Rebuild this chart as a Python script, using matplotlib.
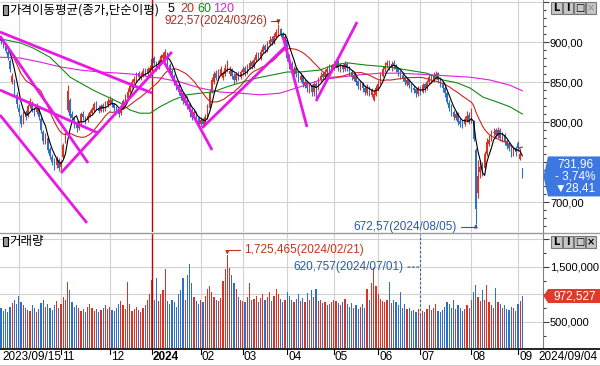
import matplotlib
matplotlib.use("Agg")
import matplotlib.pyplot as plt
import matplotlib.transforms as mtransforms
from matplotlib.patches import Rectangle, Polygon
from matplotlib.lines import Line2D
from matplotlib.ticker import MultipleLocator, FuncFormatter
import numpy as np
import pandas as pd

plt.rcParams['font.family'] = ['Noto Sans CJK KR', 'DejaVu Sans']
NUMFONT = ['Liberation Sans', 'DejaVu Sans']

# trading days, market holidays removed
holidays = ["2023-09-28", "2023-09-29", "2023-10-02", "2023-10-03", "2023-10-09",
            "2023-12-25", "2023-12-29", "2024-01-01", "2024-02-09", "2024-02-12",
            "2024-03-01", "2024-04-10", "2024-05-01", "2024-05-06", "2024-05-15",
            "2024-06-06", "2024-08-15"]
days = pd.bdate_range("2023-09-15", "2024-09-04")
days = days[~days.isin(pd.to_datetime(holidays))]

# daily candles, one line per month
open_ = [910, 906, 900, 895, 888, 876, 850, 852, 834,
         818, 808, 800, 812, 808, 820, 824, 816, 812, 818, 804, 788, 776, 780, 766, 756, 752, 746, 752,
         744, 756, 776, 815, 828, 810, 804, 798, 793, 800, 810, 806, 802, 808, 811, 815, 823, 818, 814, 821, 816, 821,
         824, 828, 822, 818, 814, 811, 818, 826, 830, 838, 844, 850, 853, 861, 855, 858, 865, 860, 864,
         868, 880, 874, 868, 875, 880, 878, 886, 871, 864, 857, 851, 846, 838, 836, 824, 830, 822, 814, 806, 812, 805,
         797, 803, 798, 806, 818, 838, 850, 861, 854, 860, 855, 860, 864, 860, 866, 858, 853, 861, 856,
         862, 867, 862, 868, 875, 870, 877, 885, 880, 888, 895, 890, 897, 904, 900, 906, 912, 916, 910, 903,
         902, 882, 872, 862, 867, 862, 853, 857, 845, 850, 840, 846, 838, 848, 842, 852, 860, 856, 862, 868, 864,
         868, 871, 875, 866, 871, 866, 873, 868, 863, 854, 857, 851, 844, 848, 843, 836, 843, 834, 828, 834,
         841, 849, 858, 866, 871, 875, 867, 874, 871, 867, 863, 859, 856, 848, 852, 847, 843, 841, 835,
         843, 838, 847, 842, 850, 857, 852, 857, 861, 853, 849, 843, 836, 824, 819, 812, 805, 810, 801, 800, 797, 803, 809,
         802, 800, 765, 711, 738, 745, 742, 760, 772, 778, 786, 790, 783, 790, 778, 784, 776, 772, 768, 759, 767,
         774, 754, 742]
high = [914, 908, 903, 897, 890, 879, 861, 854, 838,
        822, 810, 814, 815, 823, 830, 826, 819, 824, 820, 806, 790, 786, 782, 769, 760, 755, 758, 755,
        753, 774, 788, 846, 830, 814, 806, 801, 801, 813, 814, 808, 811, 815, 819, 825, 826, 821, 823, 824, 826, 830,
        832, 830, 824, 820, 817, 821, 829, 835, 842, 848, 854, 858, 863, 864, 862, 867, 868, 869, 871,
        882, 883, 876, 879, 885, 887, 891, 888, 874, 866, 860, 853, 848, 841, 838, 834, 832, 824, 817, 815, 814, 808,
        806, 805, 810, 822, 841, 856, 864, 865, 866, 870, 864, 872, 877, 870, 868, 861, 863, 864, 865,
        870, 870, 872, 878, 878, 881, 887, 888, 891, 898, 898, 901, 907, 908, 911, 916, 922.57, 918, 913, 910,
        904, 885, 876, 870, 869, 864, 861, 859, 854, 852, 848, 848, 851, 850, 856, 862, 864, 866, 870, 872, 873,
        876, 878, 877, 874, 873, 876, 875, 870, 865, 862, 859, 853, 851, 850, 846, 847, 845, 843, 840, 846,
        852, 862, 870, 875, 878, 877, 876, 877, 873, 869, 865, 862, 858, 856, 854, 849, 846, 843, 845,
        845, 849, 849, 853, 860, 860, 862, 864, 863, 856, 851, 845, 838, 828, 822, 815, 814, 812, 805, 803, 808, 814, 812,
        817, 802, 768, 752, 753, 750, 764, 780, 784, 790, 792, 793, 794, 792, 788, 786, 779, 775, 770, 769, 770,
        776, 768, 743]
low = [902, 898, 893, 886, 878, 862, 848, 832, 818,
       808, 794, 798, 802, 806, 817, 812, 808, 810, 803, 786, 772, 773, 761, 754, 746, 740, 743, 739,
       740, 754, 774, 812, 805, 800, 792, 788, 790, 798, 803, 797, 800, 806, 809, 813, 815, 811, 812, 813, 814, 819,
       821, 819, 814, 810, 806, 809, 816, 824, 828, 836, 842, 847, 850, 853, 852, 856, 857, 858, 861,
       866, 871, 864, 866, 873, 877, 876, 869, 860, 852, 846, 840, 834, 828, 822, 821, 816, 806, 802, 804, 800, 796,
       795, 794, 796, 804, 816, 836, 848, 852, 852, 858, 852, 858, 862, 857, 854, 848, 850, 853, 854,
       859, 858, 860, 866, 866, 868, 875, 877, 878, 886, 886, 888, 895, 896, 898, 904, 908, 906, 901, 899,
       876, 866, 862, 858, 856, 850, 850, 844, 842, 838, 836, 833, 832, 828, 840, 850, 852, 854, 860, 860, 862,
       865, 868, 864, 863, 862, 864, 864, 858, 852, 851, 846, 841, 840, 838, 834, 834, 832, 831, 826, 832,
       839, 847, 856, 863, 868, 865, 864, 866, 862, 858, 854, 851, 846, 845, 842, 838, 836, 831, 833,
       834, 836, 838, 840, 848, 849, 850, 854, 849, 844, 838, 831, 822, 814, 808, 802, 802, 796, 794, 792, 795, 800, 797,
       799, 776, 672.57, 705, 730, 733, 740, 758, 770, 776, 782, 780, 780, 776, 775, 771, 766, 764, 756, 757, 758,
       764, 752, 730]
close = [905, 901, 896, 889, 881, 866, 858, 836, 822,
         812, 797, 811, 806, 820, 826, 815, 812, 821, 806, 790, 776, 783, 765, 758, 750, 744, 755, 742,
         750, 771, 782, 839, 807, 805, 796, 792, 798, 810, 806, 800, 808, 812, 816, 822, 818, 814, 820, 816, 822, 826,
         828, 822, 817, 813, 810, 818, 826, 832, 838, 845, 850, 854, 860, 856, 858, 864, 860, 866, 867,
         879, 874, 868, 876, 882, 884, 888, 872, 864, 856, 850, 844, 838, 832, 826, 830, 820, 812, 806, 812, 803, 799,
         802, 798, 806, 818, 838, 852, 860, 855, 862, 866, 860, 868, 872, 864, 858, 852, 860, 856, 862,
         866, 862, 868, 874, 870, 878, 884, 880, 888, 894, 890, 898, 903, 900, 908, 912, 915, 910, 905, 906,
         880, 870, 868, 866, 860, 855, 858, 848, 850, 842, 845, 838, 848, 842, 852, 858, 856, 862, 866, 864, 870,
         872, 874, 868, 870, 866, 872, 868, 862, 856, 858, 850, 845, 848, 842, 838, 844, 836, 840, 835, 842,
         848, 858, 866, 870, 874, 868, 872, 870, 866, 862, 858, 855, 850, 852, 846, 842, 840, 836, 842,
         838, 846, 842, 850, 856, 852, 858, 860, 852, 848, 842, 836, 825, 818, 812, 806, 810, 800, 798, 796, 804, 808, 800,
         813, 779, 691, 733, 744, 738, 760, 775, 778, 785, 788, 784, 790, 780, 784, 775, 770, 768, 760, 766, 762,
         768, 760.37, 731.96]
# volume, in thousands of the displayed unit
vol_k = [820, 760, 700, 740, 690, 780, 850, 900, 830,
         980, 860, 800, 760, 720, 700, 810, 760, 690, 740, 850, 900, 780, 830, 760, 720, 800, 880, 760,
         820, 950, 900, 1230, 1080, 860, 780, 800, 760, 700, 740, 690, 780, 820, 760, 700, 730, 680, 720, 760, 800, 740,
         780, 720, 700, 760, 820, 880, 800, 740, 1230, 820, 700, 740, 780, 720, 690, 760, 800, 900, 1000,
         1260, 900, 1300, 880, 1000, 1080, 1460, 880, 820, 900, 860, 780, 1000, 1080, 1300, 900, 1350, 1550, 1200, 960, 880, 820,
         900, 860, 980, 1100, 1150, 1050, 960, 900, 880, 940, 1250, 1460, 1725.465, 1480, 1350, 1200, 1100, 950, 900,
         880, 860, 950, 1200, 900, 920, 980, 860, 940, 1000, 900, 960, 1050, 880, 980, 1100, 1000, 920, 860, 900,
         1050, 980, 900, 860, 920, 1000, 880, 940, 860, 1020, 900, 1080, 960, 1100, 880, 900, 840, 860, 800, 820, 860,
         900, 880, 840, 800, 860, 920, 820, 780, 840, 760, 800, 740, 780, 820, 760, 1100, 900, 1200, 1480, 1150,
         1000, 920, 880, 860, 900, 1230, 840, 900, 860, 800, 1050, 760, 820, 740, 760, 700, 720, 680, 740,
         620.757, 700, 680, 740, 800, 720, 760, 820, 700, 680, 720, 780, 860, 820, 760, 900, 740, 800, 760, 700, 740, 800, 760,
         900, 1050, 1170, 960, 880, 1080, 900, 1170, 860, 800, 760, 1120, 860, 820, 760, 800, 740, 720, 780, 760, 700,
         820, 880, 972.527]

# 60 and 120 day averages (day index, value)
ma60_i = [0.5, 9.5, 15.4, 23.0, 27.5, 32.1, 36.6, 42.4, 46.9, 50.1, 54.6, 59.1, 63.6, 68.1, 72.6, 78.5,
          84.8, 90.7, 96.5, 102.8, 108.7, 116.4, 123.6, 129.9, 135.8, 144.8, 150.6, 156.9, 166.0, 175.0,
          184.0, 193.0, 200.2, 206.5, 212.4, 218.3, 224.6, 230.4, 236.0]
ma60_v = [904, 899, 892.5, 881, 869, 856, 849, 840, 834, 830, 824, 815, 811, 811, 819, 827.5,
          834, 836, 837.5, 844, 849, 855, 859, 862.5, 862.5, 865, 871, 874, 871, 869,
          865, 861, 852.5, 849, 842.5, 831, 825, 819, 810]
ma120_i = [0.5, 9.5, 18.5, 27.5, 36.6, 45.6, 54.6, 63.6, 68.1, 72.6, 81.7, 90.7, 99.7, 108.7, 117.7,
           126.7, 131.2, 135.8, 144.8, 153.8, 162.8, 171.8, 180.8, 194.4, 203.4, 212.4, 221.4, 230.4, 236.0]
ma120_v = [881, 880, 875, 869, 865, 862.5, 861, 859, 856, 855, 850, 842.5, 837.5, 836, 834,
           836, 840, 844, 852.5, 856, 859, 861, 861, 859, 857.5, 856, 852.5, 846, 839]

# hand drawn trend lines: (day0, price0, day1, price1)
trend_lines = [(0.5, 912.5, 69.0, 836.3), (0.5, 907.5, 40.2, 748.8), (0.5, 840.0, 44.7, 786.3),
               (0.5, 808.8, 39.7, 673.8), (28.0, 736.3, 78.0, 887.5), (74.0, 877.5, 96.1, 765.0),
               (91.6, 792.5, 129.0, 893.8), (128.1, 906.3, 138.9, 793.8), (143.0, 826.3, 161.5, 925.0)]

month_names = {11: "11", 12: "12", 1: "2024", 2: "02", 3: "03", 4: "04", 5: "05",
               6: "06", 7: "07", 8: "08", 9: "09"}

RED = '#dc3224'
BLUE = '#2f6fca'
C_MA20 = '#c8281e'
C_MA60 = '#128a12'
C_MA120 = '#e01ee0'
C_TREND = '#e619e6'
GRID = '#d2d2d2'

o = np.array(open_, float)
h = np.array(high, float)
l = np.array(low, float)
c = np.array(close, float)
v = np.array(vol_k, float) * 1000
n = len(c)
x = np.arange(n)
up = c >= o
cols = np.where(up, RED, BLUE)

W, H = 600, 366
fig = plt.figure(figsize=(W / 100, H / 100), dpi=100)
fig.patch.set_facecolor('white')


def fx(px):
    return px / W


def fy(py):
    return 1 - py / H


ax_p = fig.add_axes([0, fy(232), fx(543), 232 / H])
ax_v = fig.add_axes([0, fy(348), fx(543), (348 - 234) / H])

for ax in (ax_p, ax_v):
    ax.set_xlim(0.5, 245.3)
    for s in ('top', 'left', 'bottom'):
        ax.spines[s].set_visible(False)
    ax.spines['right'].set_color('#808080')
    ax.set_xticks([])
    ax.yaxis.tick_right()
    ax.tick_params(axis='y', which='major', direction='out', length=4, width=0.8,
                   color='#404040', labelsize=8, pad=1)
    ax.tick_params(axis='y', which='minor', direction='out', length=2.5, width=0.8, color='#404040')
    ax.yaxis.grid(True, which='major', color=GRID, lw=0.8)
    ax.set_axisbelow(True)

ax_p.set_ylim(662.5, 952.5)
ax_p.yaxis.set_major_locator(MultipleLocator(50))
ax_p.yaxis.set_minor_locator(MultipleLocator(10))
ax_p.yaxis.set_major_formatter(FuncFormatter(
    lambda val, pos: '' if (abs(val - 750) < 1 or val > 925) else f"{val:.2f}".replace('.', ',')))

ax_v.set_ylim(27000, 2100000)
ax_v.yaxis.set_major_locator(MultipleLocator(500000))
ax_v.yaxis.set_minor_locator(MultipleLocator(250000))
ax_v.yaxis.set_major_formatter(FuncFormatter(
    lambda val, pos: '' if (abs(val - 1e6) < 1 or val > 1.9e6) else f"{val:,.0f}"))

for ax in (ax_p, ax_v):
    for lab in ax.get_yticklabels():
        lab.set_fontfamily(NUMFONT)

# month grid lines, January 2024 in red
month_start = [i for i in range(1, n) if days[i].month != days[i - 1].month]
for i in month_start:
    jan = days[i].month == 1
    for ax in (ax_p, ax_v):
        ax.axvline(i, color='#c80000' if jan else GRID, lw=1.0 if jan else 0.8, zorder=3 if jan else 0)

# candles
ax_p.vlines(x, l, h, colors=cols, lw=0.8, zorder=2)
body = np.maximum(np.abs(c - o), 0.6)
ax_p.bar(x, body, bottom=np.minimum(o, c), width=0.7, color=cols, linewidth=0, zorder=2)

# moving averages
ma5 = pd.Series(c).rolling(5, min_periods=1).mean()
ma20 = pd.Series(c).rolling(20, min_periods=1).mean()
ax_p.plot(ma120_i, ma120_v, color=C_MA120, lw=0.8, zorder=4)
ax_p.plot(ma60_i, ma60_v, color=C_MA60, lw=0.8, zorder=4)
ax_p.plot(x, ma20, color=C_MA20, lw=0.8, zorder=4)
ax_p.plot(x, ma5, color='black', lw=0.8, zorder=5)

for (i0, p0, i1, p1) in trend_lines:
    ax_p.plot([i0, i1], [p0, p1], color=C_TREND, lw=2, solid_capstyle='butt', zorder=6)

# max / min price labels
imax = int(np.argmax(h))
imin = int(np.argmin(l))
txt_max = f"{h[imax]:.2f}".replace('.', ',') + f"({days[imax]:%Y/%m/%d})"
txt_min = f"{l[imin]:.2f}".replace('.', ',') + f"({days[imin]:%Y/%m/%d})"
ax_p.annotate(txt_max, xy=(imax, h[imax]), xytext=(-8, 2), textcoords='offset points',
              ha='right', va='center', color='#b02a1e', fontsize=8.5, family=NUMFONT, zorder=7,
              arrowprops=dict(arrowstyle='-|>', color='#b02a1e', lw=0.8, shrinkA=1, shrinkB=0,
                              mutation_scale=5, relpos=(1, 0.5),
                              connectionstyle='angle,angleA=0,angleB=90,rad=0'))
ax_p.annotate(txt_min, xy=(imin, l[imin]), xytext=(-14, -2), textcoords='offset points',
              ha='right', va='center', color='#2a5aa8', fontsize=8.5, family=NUMFONT, zorder=7,
              arrowprops=dict(arrowstyle='-|>', color='#2a5aa8', lw=0.8, shrinkA=1, shrinkB=0,
                              mutation_scale=5, relpos=(1, 0.5),
                              connectionstyle='angle,angleA=0,angleB=90,rad=0'))

# volume
ax_v.bar(x, v, width=0.55, color=cols, linewidth=0, zorder=2)
vmax = int(np.argmax(v))
vmin = int(np.argmin(v))
ax_v.annotate(f"{v[vmax]:,.0f}({days[vmax]:%Y/%m/%d})", xy=(vmax, v[vmax]), xytext=(12, 3.5),
              textcoords='offset points', ha='left', va='center', color='#c8321e', fontsize=8.5,
              family=NUMFONT, zorder=7,
              arrowprops=dict(arrowstyle='-|>', color='#c8321e', lw=0.8, shrinkA=1, shrinkB=0,
                              mutation_scale=5, relpos=(0, 0.5),
                              connectionstyle='angle,angleA=0,angleB=90,rad=0'))
ax_v.vlines(vmin, v[vmin], 2100000, colors='#2a5aa8', linestyles=(0, (2, 2)), lw=0.8, zorder=3)
ax_v.annotate(f"{v[vmin]:,.0f}({days[vmin]:%Y/%m/%d})", xy=(vmin, 0.71),
              xycoords=('data', 'axes fraction'), xytext=(-12, 0), textcoords='offset points',
              ha='right', va='center', color='#2a5aa8', fontsize=8.5, family=NUMFONT, zorder=7,
              arrowprops=dict(arrowstyle='-', color='#2a5aa8', lw=0.8, linestyle=(0, (2, 2)),
                              shrinkA=1, shrinkB=0, relpos=(1, 0.5)))

# panel separator and date row frame
fig.add_artist(Line2D([0, 1], [fy(233), fy(233)], color='#9a9a9a', lw=1))
fig.add_artist(Line2D([0, 1], [fy(348.5), fy(348.5)], color='black', lw=1.2))
fig.add_artist(Line2D([0, 1], [fy(365.5), fy(365.5)], color='black', lw=1))

# date labels
tr = mtransforms.blended_transform_factory(ax_v.transData, fig.transFigure)
fig.text(fx(2), fy(357), f"{days[0]:%Y/%m/%d}", fontsize=8.5, family=NUMFONT, va='center', ha='left')
fig.text(fx(598), fy(357), f"{days[-1]:%Y/%m/%d}", fontsize=8.5, family=NUMFONT, va='center', ha='right')
for i in month_start:
    m = days[i].month
    if m not in month_names:
        continue
    fig.add_artist(Line2D([i, i], [fy(349), fy(354)], color='black', lw=0.8, transform=tr))
    fig.text(i + 0.5, fy(357), month_names[m], transform=tr, fontsize=8.5, family=NUMFONT,
             va='center', ha='left', fontweight='bold' if m == 1 else 'normal')


def icon(x_px, y_px):
    fig.add_artist(Rectangle((fx(x_px), fy(y_px + 9)), 5 / W, 9 / H, transform=fig.transFigure,
                             facecolor='#9a9a9a', edgecolor='black', lw=0.8))


# panel titles
icon(2.5, 5.5)
fig.text(fx(9), fy(10), "가격이동평균(종가,단순이평)", fontsize=9, va='center', ha='left')
for s, col, xp in [("5", 'black', 168), ("20", C_MA20, 180), ("60", C_MA60, 197), ("120", C_MA120, 213)]:
    fig.text(fx(xp), fy(9), s, color=col, fontsize=9, va='center', ha='left', family=NUMFONT)
icon(2.5, 236.5)
fig.text(fx(9), fy(241), "거래량", fontsize=9, va='center', ha='left')


def buttons(y_px, x_grey):
    for k, g in enumerate(['L', 'I', '□', '×']):
        x0 = 551 + k * 11.5
        fig.add_artist(Rectangle((fx(x0), fy(y_px + 12)), 10.5 / W, 12 / H, transform=fig.transFigure,
                                 facecolor='#c6c6c6', edgecolor='#777777', lw=0.8))
        col = '#9a9a9a' if (x_grey and k == 3) else 'black'
        fig.text(fx(x0 + 5.25), fy(y_px + 6), g, ha='center', va='center', fontsize=7,
                 family=['DejaVu Sans'], fontweight='bold', color=col)


buttons(2, True)
buttons(236, False)

# last price box
yc = H - ax_p.transData.transform((0, c[-1]))[1]
chg = c[-1] - c[-2]
pct = chg / c[-2] * 100
fig.add_artist(Polygon([(fx(543.5), fy(yc)), (fx(548), fy(yc - 20)), (fx(600), fy(yc - 20)),
                        (fx(600), fy(yc + 20)), (fx(548), fy(yc + 20))], closed=True,
                       transform=fig.transFigure, facecolor='#3c78e0', edgecolor='none'))
for k, s in enumerate([f"{c[-1]:.2f}".replace('.', ','),
                       f"- {abs(pct):.2f}%".replace('.', ','),
                       "▼" + f"{abs(chg):.2f}".replace('.', ',')]):
    fig.text(fx(575), fy(yc - 12 + k * 12), s, color='white', fontsize=8.5, ha='center', va='center',
             family=NUMFONT)

# last volume box
yv = H - ax_v.transData.transform((0, v[-1]))[1]
fig.add_artist(Polygon([(fx(543.5), fy(yv)), (fx(548), fy(yv - 7)), (fx(600), fy(yv - 7)),
                        (fx(600), fy(yv + 7)), (fx(548), fy(yv + 7))], closed=True,
                       transform=fig.transFigure, facecolor='#dc3c28', edgecolor='none'))
fig.text(fx(575), fy(yv), f"{v[-1]:,.0f}", color='white', fontsize=8.5, ha='center', va='center',
         family=NUMFONT)

fig.savefig("out.png", dpi=100, facecolor='white')
